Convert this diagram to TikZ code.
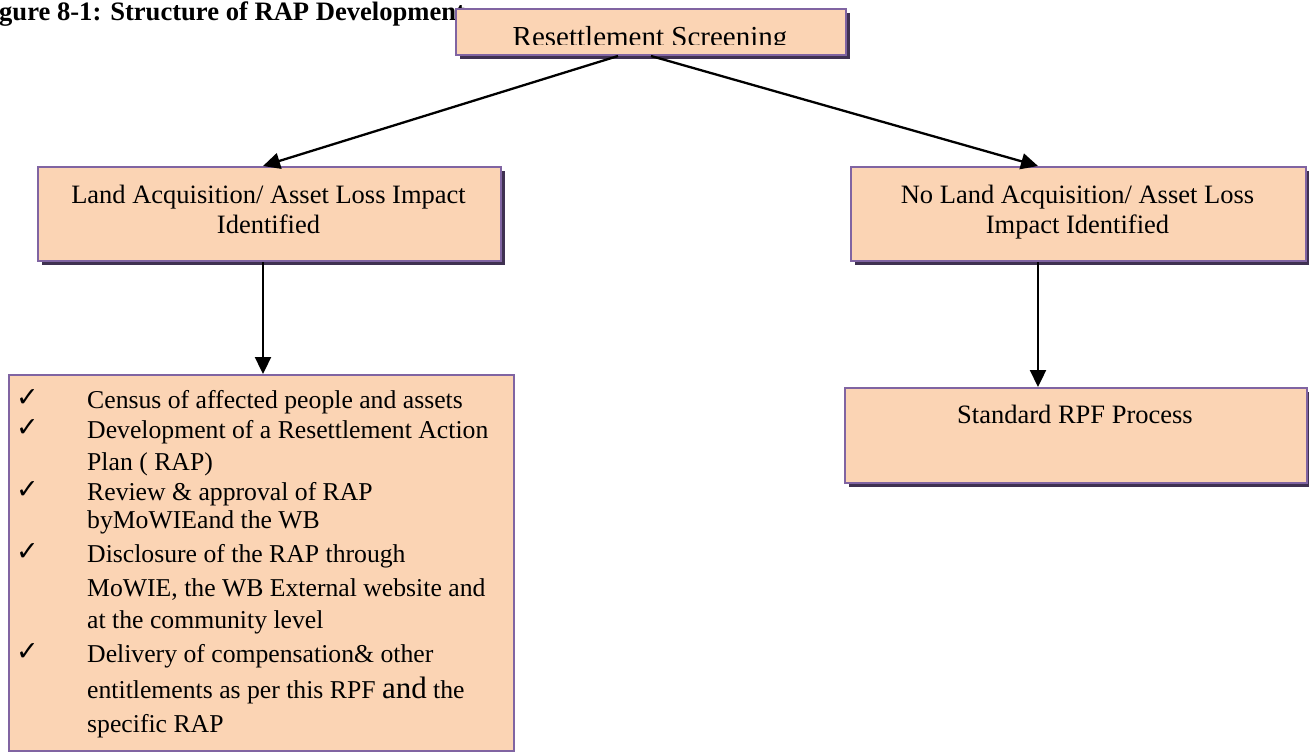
\documentclass[tikz,border=0pt]{standalone}
\usepackage{fontspec}
\setmainfont{Liberation Serif}
\newfontfamily\symfont{DejaVu Sans}
\usetikzlibrary{arrows.meta,shadows,calc}
\definecolor{boxfill}{HTML}{FBD4B4}
\definecolor{boxline}{HTML}{8064A2}
\definecolor{boxshadow}{HTML}{3F3151}
\begin{document}
\begin{tikzpicture}[x=1pt,y=-1pt,
  plainbox/.style={draw=boxline, line width=2pt, fill=boxfill, anchor=north west, inner sep=0pt},
  box/.style={plainbox,
    drop shadow={shadow xshift=4pt, shadow yshift=-4pt, fill=boxshadow, opacity=1}},
  lbl/.style={inner sep=0pt, anchor=base, font=\fontsize{26.5}{30}\selectfont},
  item/.style={inner sep=0pt, anchor=base west, font=\fontsize{25.7}{30}\selectfont},
  tick/.style={inner sep=0pt, anchor=base west, font=\symfont\fontsize{27}{27}\selectfont},
  conn/.style={line width=2.3pt, -{Triangle[length=17pt,width=16pt]}}]
\useasboundingbox (0,0) rectangle (1309,753);
\fill[white] (0,0) rectangle (1309,753);
% title
\node[inner sep=0pt, anchor=base west, font=\bfseries\fontsize{26.6}{30}\selectfont] (title) at (-1,20) {gure 8-1: Structure of RAP Development};
% boxes
\node[box, minimum width=390pt, minimum height=46pt] (scr) at (455,8) {};
\node[box, minimum width=463pt, minimum height=94pt] (la) at (37,166) {};
\node[box, minimum width=455pt, minimum height=94pt] (nla) at (850,166) {};
\node[plainbox, minimum width=505pt, minimum height=376pt] (bl) at (8,374) {};
\node[box, minimum width=462pt, minimum height=95pt] (std) at (844,387) {};
% top text (clipped as in the source)
\begin{scope}
\clip (455,8) rectangle (845,44);
\node[inner sep=0pt, anchor=base, font=\fontsize{29}{30}\selectfont] (scrt) at (650,46) {Resettlement Screening};
\end{scope}
% box labels
\node[lbl] (la1) at (268.5,203) {Land Acquisition/ Asset Loss Impact};
\node[lbl] (la2) at (268.5,233) {Identified};
\node[lbl] (nla1) at (1077.5,203) {No Land Acquisition/ Asset Loss};
\node[lbl] (nla2) at (1077.5,233) {Impact Identified};
\node[lbl] (stdt) at (1075,423) {Standard RPF Process};
% bullet list
\node[tick] (t1) at (16,406) {✓};
\node[tick] (t2) at (16,436) {✓};
\node[tick] (t3) at (16,498) {✓};
\node[tick] (t4) at (16,560) {✓};
\node[tick] (t5) at (16,660) {✓};
\node[item] (i1) at (87,408) {Census of affected people and assets};
\node[item] (i2) at (87,438) {Development of a Resettlement Action};
\node[item] (i3) at (87,470) {Plan ( RAP)};
\node[item] (i4) at (87,500) {Review \& approval of RAP};
\node[item] (i5) at (87,528) {byMoWIEand the WB};
\node[item] (i6) at (87,562) {Disclosure of the RAP through};
\node[item] (i7) at (87,596) {MoWIE, the WB External website and};
\node[item] (i8) at (87,628) {at the community level};
\node[item] (i9) at (87,662) {Delivery of compensation\& other};
\node[item] (i10) at (87,698) {entitlements as per this RPF {\fontsize{31}{31}\selectfont and} the};
\node[item] (i11) at (87,732) {specific RAP};
% connectors
\draw[conn] ([xshift=-33pt]scr.south) -- ([xshift=-6.5pt]la.north);
\draw[conn] (scr.south) -- ([xshift=-40.5pt]nla.north);
\draw[conn] ([xshift=-6.5pt]la.south) -- ([xshift=-6.5pt]la.south |- bl.north);
\draw[conn] ([xshift=-40.5pt]nla.south) -- ([xshift=-40.5pt]nla.south |- std.north);
\end{tikzpicture}
\end{document}
